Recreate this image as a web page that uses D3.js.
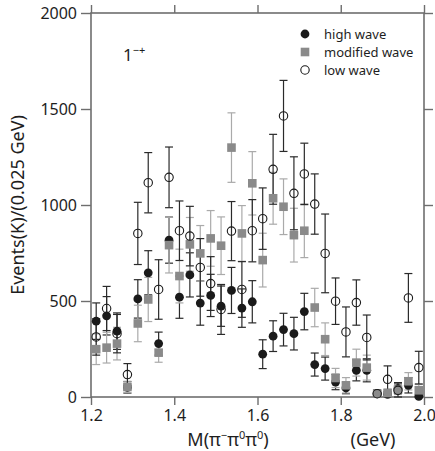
<!DOCTYPE html>
<html lang="en">
<head>
    <meta charset="utf-8">
    <title>1-+ wave</title>
    <style type="text/css">
        body { margin: 0; background: #fff; }
        svg text { font-family: "Noto Sans", "Open Sans", sans-serif; fill: #1e1e1e; }
    </style>
</head>
<body>
   <svg class="chart" width="435" height="451"></svg>

   <script src="https://d3js.org/d3.v7.min.js"></script>
   <script>
        // bin centres, 0.025 GeV wide
        var mass = [1.2125, 1.2375, 1.2625, 1.2875, 1.3125, 1.3375, 1.3625, 1.3875,
                    1.4125, 1.4375, 1.4625, 1.4875, 1.5125, 1.5375, 1.5625, 1.5875,
                    1.6125, 1.6375, 1.6625, 1.6875, 1.7125, 1.7375, 1.7625, 1.7875,
                    1.8125, 1.8375, 1.8625, 1.8875, 1.9125, 1.9375, 1.9625, 1.9875];

        var highWave = [395, 423, 343, 50, 511, 647, 278, 817, 520, 636, 489, 529, 473, 555, 463, 496,
                        223, 317, 351, 330, 445, 169, 148, 78, 47, 139, 139, 17, 14, 43, 61, 3];
        var highErr  = [95, 100, 95, 30, 100, 115, 60, 120, 110, 115, 115, 110, 105, 120, 100, 110,
                        75, 80, 85, 85, 95, 60, 60, 40, 30, 55, 60, 15, 15, 25, 40, 10];

        var modWave  = [249, 257, 278, 52, 383, 508, 231, 791, 630, 795, 748, 826, 788, 1299, 852, 1113,
                        713, 1035, 991, 843, 866, 466, 301, 99, 61, 179, 153, 17, 21, 38, 82, 35];
        var modErr   = [80, 80, 85, 30, 95, 115, 50, 145, 140, 140, 145, 145, 150, 181, 145, 165,
                        140, 135, 145, 140, 140, 100, 85, 50, 40, 70, 65, 15, 20, 25, 45, 30];

        var lowWave  = [313, 461, 330, 117, 852, 1116, 560, 1144, 866, 838, 675, 591, 456, 864, 560, 866,
                        929, 1186, 1464, 1061, 1162, 1005, 748, 499, 339, 492, 310, 17, 92, 35, 516, 153];
        var lowErr   = [95, 115, 100, 57, 162, 157, 155, 158, 155, 155, 150, 140, 130, 154, 145, 162,
                        160, 182, 185, 190, 160, 157, 205, 121, 130, 118, 117, 20, 70, 40, 127, 85];

        var xTicks = [1.2, 1.4, 1.6, 1.8, 2.0];
        var yTicks = [0, 500, 1000, 1500, 2000];

        var legendNames = ["high wave", "modified wave", "low wave"];

        var svg = d3.select('.chart');

        var x = d3.scaleLinear().domain([1.2, 2.0]).range([91, 424]),
            y = d3.scaleLinear().domain([0, 2000]).range([397, 13]);

        var frameColor = '#6e6e6e';

        // 外框
        svg.append('rect')
            .attr('x', x(1.2)).attr('y', y(2000))
            .attr('width', x(2.0) - x(1.2)).attr('height', y(0) - y(2000))
            .attr('fill', 'none').attr('stroke', frameColor).attr('stroke-width', 1.6);

        // 坐标轴
        var xAxis = d3.axisBottom(x).tickValues(xTicks).tickSize(8).tickPadding(5)
                        .tickFormat(d3.format('.1f'));
        var xAxisTop = d3.axisTop(x).tickValues(xTicks).tickSize(8).tickFormat('');
        var yAxis = d3.axisLeft(y).tickValues(yTicks).tickSize(10).tickPadding(4)
                        .tickFormat(d3.format('d'));
        var yAxisRight = d3.axisRight(y).tickValues(yTicks).tickSize(9).tickFormat('');

        function styleAxis(g) {
            g.select('.domain').remove();
            g.selectAll('.tick line').attr('stroke', frameColor).attr('stroke-width', 1.4);
            g.selectAll('.tick text').style('font-size', '16px').attr('fill', '#1e1e1e');
        }

        svg.append('g').attr('transform', 'translate(0,' + y(0) + ')').call(xAxis).call(styleAxis);
        svg.append('g').attr('transform', 'translate(0,' + y(2000) + ')').call(xAxisTop).call(styleAxis);
        svg.append('g').attr('transform', 'translate(' + x(1.2) + ',0)').call(yAxis).call(styleAxis);
        svg.append('g').attr('transform', 'translate(' + x(2.0) + ',0)').call(yAxisRight).call(styleAxis);

        // 误差棒
        function errorBars(values, errs, color, cls) {
            var g = svg.append('g').attr('class', cls).attr('stroke', color).attr('stroke-width', 1.2);
            mass.forEach(function(m, i) {
                var lo = Math.max(0, values[i] - errs[i]), hi = values[i] + errs[i];
                g.append('line').attr('x1', x(m)).attr('x2', x(m)).attr('y1', y(lo)).attr('y2', y(hi));
                g.append('line').attr('x1', x(m) - 4).attr('x2', x(m) + 4).attr('y1', y(lo)).attr('y2', y(lo));
                g.append('line').attr('x1', x(m) - 4).attr('x2', x(m) + 4).attr('y1', y(hi)).attr('y2', y(hi));
            });
        }

        errorBars(highWave, highErr, '#2a2a2a', 'err-high');
        errorBars(modWave, modErr, '#aaaaaa', 'err-mod');
        errorBars(lowWave, lowErr, '#2a2a2a', 'err-low');

        // 数据点
        svg.append('g').selectAll('circle')
            .data(highWave).enter().append('circle')
            .attr('cx', function(d, i) { return x(mass[i]); })
            .attr('cy', function(d) { return y(d); })
            .attr('r', 4.4).attr('fill', '#1a1a1a');

        svg.append('g').selectAll('rect')
            .data(modWave).enter().append('rect')
            .attr('x', function(d, i) { return x(mass[i]) - 4.3; })
            .attr('y', function(d) { return y(d) - 4.3; })
            .attr('width', 8.6).attr('height', 8.6).attr('fill', '#8a8a8a');

        svg.append('g').selectAll('circle')
            .data(lowWave).enter().append('circle')
            .attr('cx', function(d, i) { return x(mass[i]); })
            .attr('cy', function(d) { return y(d); })
            .attr('r', 4.2).attr('fill', 'none').attr('stroke', '#1a1a1a').attr('stroke-width', 1.1);

        // 图例
        var legend = svg.append('g').attr('transform', 'translate(305,34)');
        legendNames.forEach(function(name, i) {
            var row = legend.append('g').attr('transform', 'translate(0,' + (i * 18) + ')');
            if (i === 0) row.append('circle').attr('r', 4.4).attr('fill', '#1a1a1a');
            if (i === 1) row.append('rect').attr('x', -4.3).attr('y', -4.3).attr('width', 8.6).attr('height', 8.6).attr('fill', '#8a8a8a');
            if (i === 2) row.append('circle').attr('r', 4.2).attr('fill', 'none').attr('stroke', '#1a1a1a').attr('stroke-width', 1.1);
            row.append('text').attr('x', 19).attr('y', 4.5).style('font-size', '13px').text(name);
        });

        // 标签
        svg.append('text').attr('x', 123).attr('y', 61).style('font-size', '17px')
            .html('1<tspan dy="-7" style="font-size:11px">−+</tspan>');

        svg.append('text')
            .attr('transform', 'translate(24,205) rotate(-90)')
            .attr('text-anchor', 'middle').style('font-size', '18px')
            .text('Events(K)/(0.025 GeV)');

        svg.append('text').attr('x', 228).attr('y', 446).attr('text-anchor', 'middle').style('font-size', '18px')
            .html('M(π<tspan dy="-7" style="font-size:11px">−</tspan><tspan dy="7">π</tspan><tspan dy="-7" style="font-size:11px">0</tspan><tspan dy="7">π</tspan><tspan dy="-7" style="font-size:11px">0</tspan><tspan dy="7">)</tspan>');

        svg.append('text').attr('x', 373).attr('y', 446).attr('text-anchor', 'middle').style('font-size', '18px')
            .text('(GeV)');
   </script>
</body>
</html>
